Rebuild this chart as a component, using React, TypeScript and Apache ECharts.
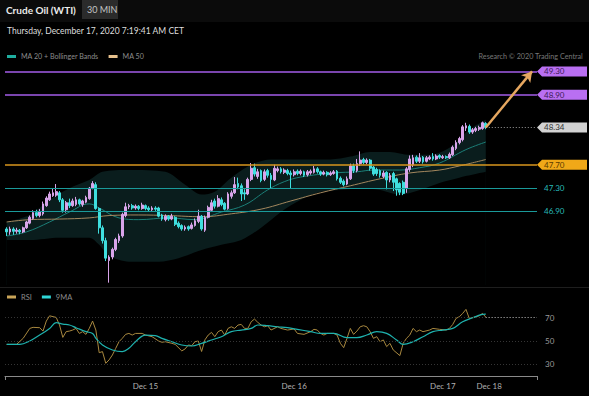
import React, { useEffect, useRef } from "react";
import * as echarts from "echarts";

// ---------- data ----------
const slotCount = 161; // 30-minute slots on the time axis (incl. empty right margin)
const categories: string[] = [];
for (let i = 0; i < slotCount; i++) categories.push(String(i));

const xTickIndex = [42, 87, 132, 146];
const xTickText = ["Dec 15", "Dec 16", "Dec 17", "Dec 18"];

// [open, close, low, high]
const candles: number[][] = [
  [46.60, 46.55, 46.48, 46.63], [46.55, 46.60, 46.50, 46.64], [46.60, 46.56, 46.50, 46.63], [46.56, 46.58, 46.52, 46.62],
  [46.58, 46.55, 46.51, 46.60], [46.55, 46.62, 46.53, 46.64], [46.62, 46.72, 46.60, 46.74], [46.70, 46.80, 46.68, 46.83],
  [46.78, 46.88, 46.76, 46.92], [46.88, 46.83, 46.80, 46.93], [46.83, 46.90, 46.80, 46.94], [46.86, 47.03, 46.83, 47.07],
  [47.00, 47.13, 46.98, 47.16], [47.10, 47.20, 47.08, 47.24], [47.17, 47.22, 47.15, 47.30], [47.18, 47.24, 47.15, 47.37],
  [47.22, 47.10, 47.06, 47.25], [47.10, 46.92, 46.88, 47.13], [46.93, 47.05, 46.88, 47.08], [47.05, 47.00, 46.96, 47.12],
  [47.00, 47.08, 46.98, 47.12], [47.02, 47.10, 46.99, 47.15], [47.10, 47.03, 47.00, 47.12], [47.02, 47.08, 46.98, 47.10],
  [47.06, 47.14, 47.04, 47.17], [47.12, 47.30, 47.10, 47.32], [47.30, 47.38, 47.28, 47.42], [47.36, 46.95, 46.93, 47.40],
  [46.95, 46.62, 46.52, 46.97], [46.62, 46.40, 46.35, 46.66], [46.40, 46.10, 46.05, 46.45], [46.06, 46.12, 45.68, 46.15],
  [46.12, 46.25, 46.08, 46.28], [46.25, 46.42, 46.22, 46.45], [46.40, 46.48, 46.36, 46.52], [46.48, 46.85, 46.45, 46.88],
  [46.83, 46.98, 46.80, 47.05], [46.98, 47.00, 46.94, 47.03], [47.00, 46.96, 46.93, 47.03], [46.96, 46.99, 46.93, 47.02],
  [46.99, 46.95, 46.92, 47.01], [46.95, 47.01, 46.93, 47.05], [47.00, 46.95, 46.92, 47.02], [46.96, 46.93, 46.90, 46.99],
  [46.93, 46.96, 46.91, 46.99], [46.96, 46.94, 46.91, 46.99], [46.96, 46.82, 46.80, 46.98], [46.84, 46.77, 46.74, 46.86],
  [46.76, 46.82, 46.73, 46.85], [46.82, 46.77, 46.74, 46.84], [46.77, 46.82, 46.75, 46.86], [46.80, 46.68, 46.65, 46.82],
  [46.70, 46.64, 46.61, 46.73], [46.66, 46.60, 46.57, 46.68], [46.60, 46.63, 46.57, 46.66], [46.64, 46.60, 46.57, 46.66],
  [46.61, 46.67, 46.59, 46.71], [46.66, 46.74, 46.64, 46.78], [46.73, 46.82, 46.70, 46.93], [46.82, 46.60, 46.57, 46.84],
  [46.58, 46.80, 46.55, 46.83], [46.80, 46.97, 46.78, 47.00], [46.92, 47.05, 46.90, 47.10], [47.08, 46.99, 46.95, 47.12],
  [46.99, 47.12, 46.97, 47.18], [47.10, 47.02, 46.99, 47.14], [47.04, 46.94, 46.92, 47.06], [46.95, 47.20, 46.93, 47.23],
  [47.16, 47.22, 47.12, 47.26], [47.22, 47.36, 47.20, 47.49], [47.38, 47.32, 47.28, 47.48], [47.34, 47.20, 47.08, 47.38],
  [47.22, 47.20, 47.10, 47.28], [47.20, 47.45, 47.18, 47.48], [47.45, 47.64, 47.42, 47.73], [47.65, 47.54, 47.50, 47.72],
  [47.50, 47.58, 47.46, 47.63], [47.60, 47.43, 47.40, 47.62], [47.45, 47.58, 47.42, 47.62], [47.60, 47.52, 47.48, 47.63],
  [47.52, 47.45, 47.30, 47.56], [47.44, 47.64, 47.42, 47.70], [47.60, 47.63, 47.57, 47.67], [47.63, 47.58, 47.55, 47.66],
  [47.57, 47.61, 47.54, 47.64], [47.60, 47.55, 47.52, 47.63], [47.56, 47.53, 47.30, 47.60], [47.53, 47.58, 47.50, 47.62],
  [47.59, 47.55, 47.52, 47.62], [47.55, 47.59, 47.52, 47.62], [47.58, 47.52, 47.49, 47.60], [47.53, 47.58, 47.50, 47.61],
  [47.56, 47.59, 47.53, 47.62], [47.57, 47.63, 47.55, 47.68], [47.63, 47.58, 47.55, 47.66], [47.58, 47.54, 47.51, 47.60],
  [47.54, 47.57, 47.52, 47.60], [47.57, 47.53, 47.50, 47.59], [47.53, 47.56, 47.51, 47.59], [47.55, 47.58, 47.53, 47.61],
  [47.59, 47.46, 47.43, 47.61], [47.47, 47.40, 47.37, 47.50], [47.42, 47.36, 47.33, 47.45], [47.37, 47.46, 47.35, 47.50],
  [47.46, 47.68, 47.44, 47.72], [47.68, 47.60, 47.56, 47.72], [47.60, 47.72, 47.57, 47.80], [47.72, 47.78, 47.68, 47.93],
  [47.79, 47.74, 47.71, 47.82], [47.74, 47.78, 47.71, 47.81], [47.78, 47.64, 47.60, 47.80], [47.66, 47.54, 47.51, 47.68],
  [47.62, 47.55, 47.51, 47.65], [47.60, 47.52, 47.48, 47.62], [47.50, 47.56, 47.47, 47.60], [47.57, 47.44, 47.28, 47.59],
  [47.44, 47.52, 47.40, 47.56], [47.55, 47.40, 47.25, 47.58], [47.46, 47.27, 47.17, 47.48], [47.38, 47.23, 47.18, 47.40],
  [47.40, 47.21, 47.18, 47.43], [47.30, 47.63, 47.22, 47.66], [47.62, 47.80, 47.58, 47.86], [47.70, 47.82, 47.66, 47.87],
  [47.83, 47.76, 47.73, 47.86], [47.76, 47.82, 47.73, 47.90], [47.83, 47.75, 47.72, 47.85], [47.76, 47.82, 47.74, 47.85],
  [47.80, 47.83, 47.78, 47.86], [47.84, 47.80, 47.77, 47.90], [47.80, 47.85, 47.78, 47.88], [47.86, 47.83, 47.80, 47.88],
  [47.82, 47.84, 47.80, 47.87], [47.84, 47.82, 47.80, 47.86], [47.82, 47.88, 47.80, 47.91], [47.87, 48.00, 47.85, 48.03],
  [47.98, 48.08, 47.95, 48.12], [48.08, 48.15, 48.05, 48.18], [48.13, 48.35, 48.10, 48.38], [48.33, 48.37, 48.28, 48.42],
  [48.36, 48.26, 48.23, 48.39], [48.26, 48.30, 48.23, 48.33], [48.29, 48.32, 48.26, 48.35], [48.31, 48.34, 48.28, 48.37],
  [48.32, 48.42, 48.30, 48.44], [48.41, 48.34, 48.31, 48.43],
];

// [slot, value]
const ma20: number[][] = [
  [0, 46.48], [6, 46.55], [13, 46.72], [19, 46.89], [25, 47.03], [28, 46.96], [34, 46.79], [40, 46.76],
  [49, 46.79], [57, 46.76], [65, 46.89], [72, 47.01], [79, 47.27], [84, 47.41], [89, 47.49], [99, 47.56],
  [106, 47.58], [111, 47.61], [119, 47.61], [125, 47.65], [131, 47.73], [139, 47.96], [145, 48.09],
];
const ma50: number[][] = [
  [0, 46.72], [7, 46.76], [16, 46.77], [25, 46.79], [31, 46.83], [40, 46.84], [49, 46.83], [59, 46.81],
  [68, 46.86], [77, 46.94], [86, 47.08], [95, 47.22], [104, 47.34], [113, 47.46], [122, 47.56], [131, 47.61],
  [137, 47.68], [145, 47.79],
];
const bbUpper: number[][] = [
  [0, 46.72], [7, 46.84], [13, 47.10], [19, 47.30], [25, 47.44], [29, 47.58], [37, 47.61], [48, 47.58],
  [54, 47.36], [59, 47.19], [63, 47.24], [68, 47.48], [74, 47.70], [80, 47.79], [89, 47.79], [98, 47.79],
  [104, 47.84], [110, 47.92], [116, 47.92], [122, 47.87], [128, 47.87], [134, 47.99], [140, 48.30], [145, 48.47],
];
const bbLower: number[][] = [
  [0, 46.41], [7, 46.41], [16, 46.45], [25, 46.45], [28, 46.33], [31, 46.14], [37, 46.04], [46, 46.04],
  [52, 46.10], [59, 46.24], [65, 46.33], [71, 46.41], [77, 46.62], [83, 46.89], [89, 47.10], [95, 47.24],
  [101, 47.27], [107, 47.30], [113, 47.27], [119, 47.19], [125, 47.27], [131, 47.39], [137, 47.48], [145, 47.58],
];

const rsi: number[][] = [
  [0, 47.1], [3, 47.1], [5, 52.3], [7, 60.8], [8, 61.7], [10, 61.4], [11, 58.5], [12, 67.1], [13, 71.6], [15, 70.2],
  [16, 63.7], [17, 53.1], [18, 58.0], [19, 58.5], [20, 59.4], [21, 60.8], [22, 56.5], [23, 58.0], [24, 55.7], [25, 60.8],
  [26, 67.1], [27, 59.4], [28, 40.0], [29, 40.9], [30, 30.9], [31, 33.8], [32, 38.0], [33, 43.7], [34, 49.4], [35, 52.3],
  [36, 55.7], [37, 56.5], [38, 55.1], [39, 56.5], [41, 56.5], [42, 55.1], [44, 53.7], [46, 50.0], [47, 48.9], [48, 49.4],
  [50, 48.0], [51, 47.1], [53, 41.5], [54, 43.2], [55, 46.6], [56, 46.0], [57, 49.4], [58, 50.0], [59, 41.0], [60, 51.0],
  [61, 55.1], [62, 57.4], [63, 53.7], [64, 58.0], [65, 59.4], [66, 55.1], [67, 60.8], [68, 62.2], [69, 60.8], [70, 63.7],
  [71, 64.2], [72, 60.8], [73, 60.8], [74, 66.5], [75, 68.8], [76, 66.0], [77, 63.7], [78, 62.2], [79, 63.1], [80, 59.4],
  [82, 62.2], [83, 60.8], [85, 59.4], [87, 60.3], [88, 56.5], [90, 55.7], [92, 58.0], [93, 60.0], [94, 59.4], [95, 56.5],
  [96, 55.1], [97, 56.5], [99, 56.5], [100, 55.1], [101, 48.0], [102, 44.3], [103, 52.3], [104, 60.8], [105, 55.7], [106, 58.5],
  [107, 62.2], [108, 63.1], [109, 62.2], [110, 58.0], [111, 52.3], [112, 53.7], [113, 49.4], [114, 50.9], [115, 45.2], [116, 48.0],
  [117, 42.3], [119, 37.5], [120, 48.0], [121, 52.3], [122, 55.1], [123, 60.8], [124, 58.0], [125, 59.4], [126, 58.0], [128, 59.4],
  [129, 60.8], [131, 60.0], [133, 59.4], [134, 60.8], [135, 64.2], [136, 69.4], [137, 70.8], [138, 73.6], [139, 77.1], [140, 69.4],
  [141, 70.0], [143, 71.6], [144, 73.6], [145, 70.5],
];
const rsiMa9: number[][] = [
  [0, 47.1], [4, 47.1], [7, 50.0], [10, 55.1], [13, 60.8], [15, 65.7], [17, 64.5], [19, 63.7], [21, 61.4], [24, 58.0],
  [26, 56.5], [27, 52.3], [29, 46.6], [32, 42.3], [35, 40.9], [37, 43.7], [39, 49.4], [42, 55.1], [45, 54.6], [47, 52.3],
  [50, 49.4], [53, 46.6], [56, 45.7], [59, 48.0], [62, 50.9], [65, 53.7], [68, 58.0], [71, 59.4], [74, 60.8], [76, 63.7],
  [79, 63.1], [82, 62.2], [85, 61.4], [88, 60.0], [92, 58.0], [95, 56.5], [99, 56.5], [103, 52.9], [106, 52.9], [109, 55.1],
  [112, 58.0], [115, 56.5], [118, 50.9], [120, 47.1], [123, 49.4], [126, 53.7], [129, 58.0], [132, 59.4], [135, 60.8], [138, 66.5],
  [141, 69.9], [144, 72.8], [145, 73.0],
];
const rsiLevels = [70, 50, 30];
const rsiLast = 70.5;

// price levels on the right
const levelValues = [49.3, 48.9, 48.34, 47.7, 47.3, 46.9];
const levelKinds = ["purple", "purple", "last", "orange", "teal", "teal"];
const lastPrice = 48.34;
const targetPrice = 49.3;
const lastSlot = 145;
const targetSlot = 159;
const endSlot = 160;

const FONT = "Lato, 'Liberation Sans', sans-serif";

export default function App() {
  const ref = useRef<HTMLDivElement>(null);
  useEffect(() => {
    if (!ref.current) return;
    const chart = echarts.init(ref.current, undefined, { renderer: "svg" });
    const kindStyle: Record<string, any> = {
      purple: { line: "#a35de8", bg: "#b96ff2", fg: "#3d1b57" },
      last: { line: "#8a8a8a", bg: "#d2d2d2", fg: "#333333" },
      orange: { line: "#d9961e", bg: "#f0a818", fg: "#5a3a00" },
      teal: { line: "#1a9a9a", bg: "", fg: "#27b8b8" },
    };
    const levelLines = levelValues
      .map((v, i) => ({ v, k: levelKinds[i] }))
      .filter((d) => d.k !== "last")
      .map((d) => ({
        yAxis: d.v,
        symbol: "none",
        lineStyle: { color: kindStyle[d.k].line, width: d.k === "teal" ? 1.2 : 1.5, type: "solid" },
        label: { show: false },
      }));

    const option: any = {
      animation: false,
      backgroundColor: "#000000",
      textStyle: { fontFamily: FONT },
      graphic: [
        { type: "rect", left: 0, top: 0, shape: { width: 589, height: 22 }, style: { fill: "#0b0b0b" }, z: -1 },
        { type: "text", left: 6, top: 5, style: { text: "Crude Oil (WTI)", fill: "#ececec", font: `bold 10px ${FONT}` } },
        { type: "rect", left: 82, top: 0, shape: { width: 36, height: 19 }, style: { fill: "#2b2b2b" } },
        { type: "text", left: 87, top: 5, style: { text: "30 MIN", fill: "#c4c4c4", font: `9px ${FONT}` } },
        { type: "text", left: 7, top: 26, style: { text: "Thursday, December 17, 2020 7:19:41 AM CET", fill: "#dedede", font: `8.5px ${FONT}` } },
        { type: "text", right: 6, top: 53, style: { text: "Research \u00a9 2020 Trading Central", fill: "#777777", font: `7.2px ${FONT}` } },
        { type: "rect", left: 0, top: 287, shape: { width: 589, height: 1 }, style: { fill: "#1e1e1e" } },
      ],
      legend: [
        {
          left: 7, top: 53, padding: 0, icon: "rect", itemWidth: 9, itemHeight: 3, itemGap: 10, selectedMode: false,
          textStyle: { color: "#8c8c8c", fontSize: 7.1, fontFamily: FONT },
          data: [
            { name: "MA 20 + Bollinger Bands", itemStyle: { color: "#1fae9f" } },
            { name: "MA 50", itemStyle: { color: "#e6c08c" } },
          ],
        },
        {
          left: 7, top: 293, padding: 0, icon: "rect", itemWidth: 9, itemHeight: 3, itemGap: 10, selectedMode: false,
          textStyle: { color: "#8c8c8c", fontSize: 7.5, fontFamily: FONT },
          data: [
            { name: "RSI", itemStyle: { color: "#c9a458" } },
            { name: "9MA", itemStyle: { color: "#2fd6d6" } },
          ],
        },
      ],
      grid: [
        { left: 5, right: 52, top: 65, height: 220 },
        { left: 5, right: 52, top: 306, height: 70 },
      ],
      xAxis: [
        { type: "category", gridIndex: 0, data: categories, boundaryGap: true, show: false },
        {
          type: "category", gridIndex: 1, data: categories, boundaryGap: true,
          axisLine: { show: true, lineStyle: { color: "#8a8a8a", width: 1 } },
          axisTick: { show: false },
          axisLabel: {
            show: true, color: "#b0b0b0", fontSize: 8, fontFamily: FONT, margin: 6,
            interval: (idx: number) => xTickIndex.indexOf(idx) >= 0,
            formatter: (_v: string, idx: number) => {
              const k = xTickIndex.indexOf(idx);
              return k >= 0 ? xTickText[k] : "";
            },
          },
          splitLine: { show: false },
        },
        {
          type: "value", gridIndex: 1, min: 0, max: slotCount, interval: slotCount, position: "bottom",
          axisLine: { show: false }, axisLabel: { show: false }, splitLine: { show: false },
          axisTick: { show: true, length: 4, lineStyle: { color: "#8a8a8a" } },
        },
      ],
      yAxis: [
        { type: "value", gridIndex: 0, min: 45.64, max: 49.41, show: false, scale: true },
        {
          type: "value", gridIndex: 1, min: 20, max: 80, interval: 10, position: "right",
          axisLine: { show: false }, axisTick: { show: false }, splitLine: { show: false },
          axisLabel: {
            color: "#9a9a9a", fontSize: 8, fontFamily: FONT, margin: 8,
            formatter: (v: number) => (rsiLevels.indexOf(v) >= 0 ? String(v) : ""),
          },
        },
      ],
      series: [
        {
          name: "bbUpper", type: "line", xAxisIndex: 0, yAxisIndex: 0, data: bbUpper, smooth: 0.3,
          showSymbol: false, silent: true, z: 1, lineStyle: { width: 0 },
          areaStyle: { color: "#0a1d1d", opacity: 1, origin: "start" },
        },
        {
          name: "bbLower", type: "line", xAxisIndex: 0, yAxisIndex: 0, data: bbLower, smooth: 0.3,
          showSymbol: false, silent: true, z: 2, lineStyle: { width: 0 },
          areaStyle: { color: "#000000", opacity: 1, origin: "start" },
        },
        {
          name: "MA 20 + Bollinger Bands", type: "line", xAxisIndex: 0, yAxisIndex: 0, data: ma20, smooth: 0.4,
          showSymbol: false, z: 3, lineStyle: { color: "#1c7f78", width: 1 }, itemStyle: { color: "#1fae9f" },
        },
        {
          name: "MA 50", type: "line", xAxisIndex: 0, yAxisIndex: 0, data: ma50, smooth: 0.4,
          showSymbol: false, z: 3, lineStyle: { color: "#a3875e", width: 1 }, itemStyle: { color: "#e6c08c" },
        },
        {
          name: "price", type: "candlestick", xAxisIndex: 0, yAxisIndex: 0, data: candles, barWidth: "68%", z: 4,
          itemStyle: { color: "#d8a4ea", color0: "#3fdede", borderColor: "#d8a4ea", borderColor0: "#3fdede", borderWidth: 1 },
          markLine: {
            silent: true, symbol: "none", animation: false,
            data: [
              ...levelLines,
              [
                { coord: [lastSlot, lastPrice], symbol: "none", lineStyle: { color: "#9a9a9a", width: 1, type: [1, 2] }, label: { show: false } },
                { coord: [endSlot, lastPrice], symbol: "none" },
              ],
              [
                { coord: [lastSlot, lastPrice], symbol: "none", lineStyle: { color: "#e6a760", width: 2.5, type: "solid" }, label: { show: false } },
                { coord: [targetSlot, targetPrice], symbol: "arrow", symbolSize: [9, 10] },
              ],
            ],
          },
        },
        {
          name: "levels", type: "custom", xAxisIndex: 0, yAxisIndex: 0, z: 10, silent: true, clip: false,
          data: levelValues.map((v, i) => [0, v, i]),
          renderItem: (params: any, api: any) => {
            const v = api.value(1);
            const k = levelKinds[api.value(2)];
            const st = kindStyle[k];
            const y = api.coord([0, v])[1];
            const cs = params.coordSys;
            const x0 = cs.x + cs.width;
            const txt = v.toFixed(2);
            if (k === "teal") {
              return {
                type: "text", x: x0 + 7, y,
                style: { text: txt, fill: st.fg, font: `8px ${FONT}`, verticalAlign: "middle", align: "left" },
              };
            }
            return {
              type: "group",
              children: [
                {
                  type: "polygon",
                  shape: { points: [[x0, y], [x0 + 5, y - 5], [x0 + 50, y - 5], [x0 + 50, y + 5], [x0 + 5, y + 5]] },
                  style: { fill: st.bg },
                },
                {
                  type: "text", x: x0 + 7, y,
                  style: { text: txt, fill: st.fg, font: `8px ${FONT}`, verticalAlign: "middle", align: "left" },
                },
              ],
            };
          },
        },
        {
          name: "RSI", type: "line", xAxisIndex: 1, yAxisIndex: 1, data: rsi, showSymbol: false, z: 3,
          lineStyle: { color: "#a8883f", width: 1 }, itemStyle: { color: "#c9a458" },
          markLine: {
            silent: true, symbol: "none", animation: false, label: { show: false },
            data: [
              ...rsiLevels.map((v) => ({ yAxis: v, lineStyle: { color: "#353535", width: 1, type: [1, 2] } })),
              [
                { coord: [lastSlot, rsiLast], lineStyle: { color: "#9a9a9a", width: 1, type: [1, 2] } },
                { coord: [endSlot, rsiLast] },
              ],
            ],
          },
        },
        {
          name: "9MA", type: "line", xAxisIndex: 1, yAxisIndex: 1, data: rsiMa9, smooth: 0.4, showSymbol: false, z: 4,
          lineStyle: { color: "#1eb2ae", width: 1.2 }, itemStyle: { color: "#2fd6d6" },
        },
      ],
    };
    chart.setOption(option);
    return () => chart.dispose();
  }, []);
  return (
    <div style={{ position: "fixed", left: 0, top: 0, width: 589, height: 396, background: "#000" }}>
      <div ref={ref} style={{ width: 589, height: 396 }} />
    </div>
  );
}
